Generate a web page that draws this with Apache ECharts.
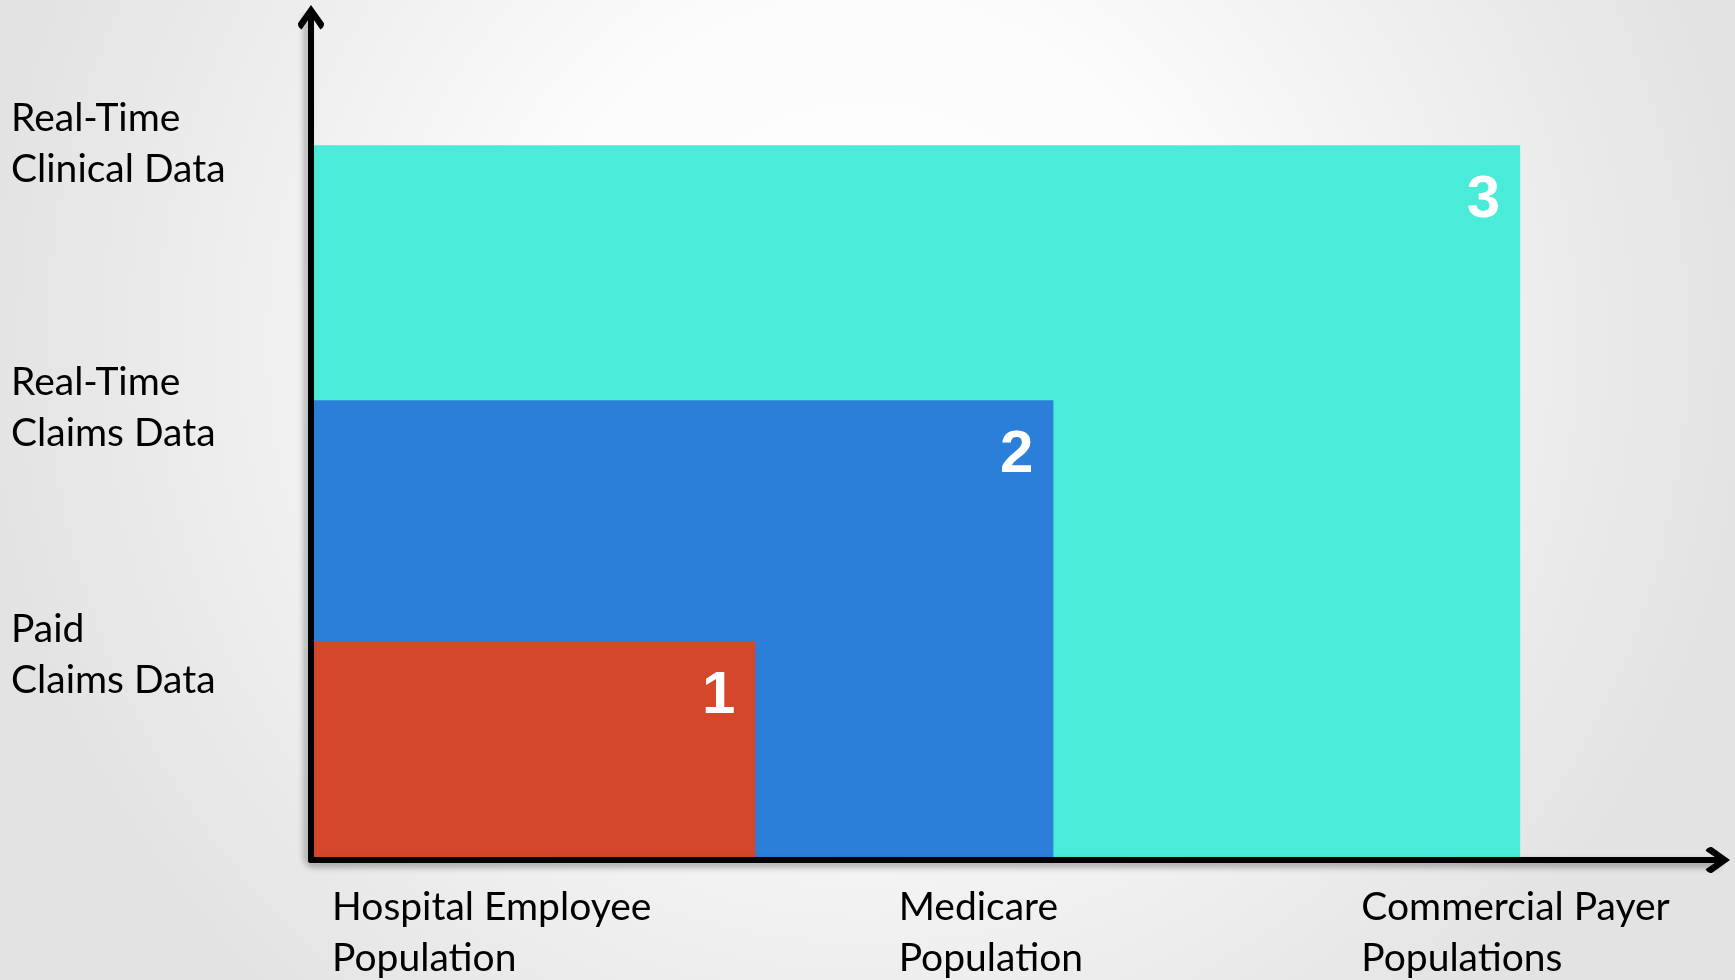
<!DOCTYPE html>
<html>
<head>
<meta charset="utf-8">
<script src="https://cdn.jsdelivr.net/npm/echarts@6/dist/echarts.min.js"></script>
<style>
html,body{margin:0;padding:0;width:1735px;height:980px;overflow:hidden;}
#c{width:1735px;height:980px;}
</style>
</head>
<body>
<div id="c"></div>
<script>
// Data levels (y) and population groups (x)
const yLevels = ['Paid\nClaims Data', 'Real-Time\nClaims Data', 'Real-Time\nClinical Data'];
const yLabelValues = [24.3, 53.7, 85.0];
const xGroups = ['Hospital Employee\nPopulation', 'Medicare\nPopulation', 'Commercial Payer\nPopulations'];
const xLabelValues = [1.5, 41.8, 74.7];
const stepNames = ['1', '2', '3'];
const stepReach = [31.6, 52.8, 86.0];   // population coverage (x)
const stepDepth = [26.0, 54.6, 84.9];   // data richness (y)
const stepColors = ['#D4472A', '#2B7FD8', '#4AEBD8'];

const arrowPath = 'path://M50 0 L100 70 Q101 86 86 94 L60 56 L60 100 L40 100 L40 56 L14 94 Q-1 86 0 70 Z';

function lookup(values, texts, v) {
  let best = 0, bd = Infinity;
  for (let i = 0; i < values.length; i++) {
    const d = Math.abs(values[i] - v);
    if (d < bd) { bd = d; best = i; }
  }
  return texts[best];
}

// largest first so smaller steps draw on top
const stepData = [];
for (let i = stepNames.length - 1; i >= 0; i--) {
  stepData.push({ value: [stepReach[i], stepDepth[i]], name: stepNames[i], color: stepColors[i] });
}

const chart = echarts.init(document.getElementById('c'), null, { renderer: 'canvas' });
const labelFont = { fontFamily: 'Lato', fontSize: 39, color: '#000' };

chart.setOption({
  backgroundColor: {
    type: 'radial', x: 0.5, y: 0.35, r: 0.9,
    colorStops: [
      { offset: 0, color: '#ffffff' },
      { offset: 0.4, color: '#fbfbfb' },
      { offset: 1, color: '#e3e3e3' }
    ]
  },
  animation: false,
  grid: { left: 311, right: 18, top: 18, bottom: 120, containLabel: false, outerBoundsMode: 'none' },
  xAxis: {
    type: 'value', min: 0, max: 100, z: 5,
    splitLine: { show: false },
    axisTick: { show: false },
    axisLine: {
      show: true,
      symbol: ['none', arrowPath],
      symbolSize: [27, 26],
      lineStyle: { color: '#000', width: 6, shadowColor: 'rgba(0,0,0,0.35)', shadowBlur: 6, shadowOffsetY: 4 }
    },
    axisLabel: Object.assign({
      customValues: xLabelValues,
      formatter: function (v) { return lookup(xLabelValues, xGroups, v); },
      align: 'left', verticalAlign: 'top', margin: 22, lineHeight: 51
    }, labelFont)
  },
  yAxis: {
    type: 'value', min: 0, max: 100, z: 5,
    splitLine: { show: false },
    axisTick: { show: false },
    axisLine: {
      show: true,
      symbol: ['none', arrowPath],
      symbolSize: [27, 26],
      lineStyle: { color: '#000', width: 6, shadowColor: 'rgba(0,0,0,0.3)', shadowBlur: 6, shadowOffsetX: -4 }
    },
    axisLabel: Object.assign({
      customValues: yLabelValues,
      formatter: function (v) { return lookup(yLabelValues, yLevels, v); },
      align: 'left', verticalAlign: 'middle', margin: 300, lineHeight: 51
    }, labelFont)
  },
  series: [{
    type: 'custom',
    coordinateSystem: 'cartesian2d',
    clip: false,
    data: stepData,
    renderItem: function (params, api) {
      const d = stepData[params.dataIndex];
      const p0 = api.coord([0, api.value(1)]);
      const p1 = api.coord([api.value(0), 0]);
      return {
        type: 'rect',
        shape: { x: p0[0], y: p0[1], width: p1[0] - p0[0], height: p1[1] - p0[1] },
        style: { fill: d.color },
        textContent: {
          style: { text: d.name, fill: '#ffffff', font: 'bold 60px "Liberation Sans", Arial, sans-serif' }
        },
        textConfig: { position: 'insideTopRight', distance: 20, offset: [0, 5] }
      };
    }
  }]
});
</script>
</body>
</html>
